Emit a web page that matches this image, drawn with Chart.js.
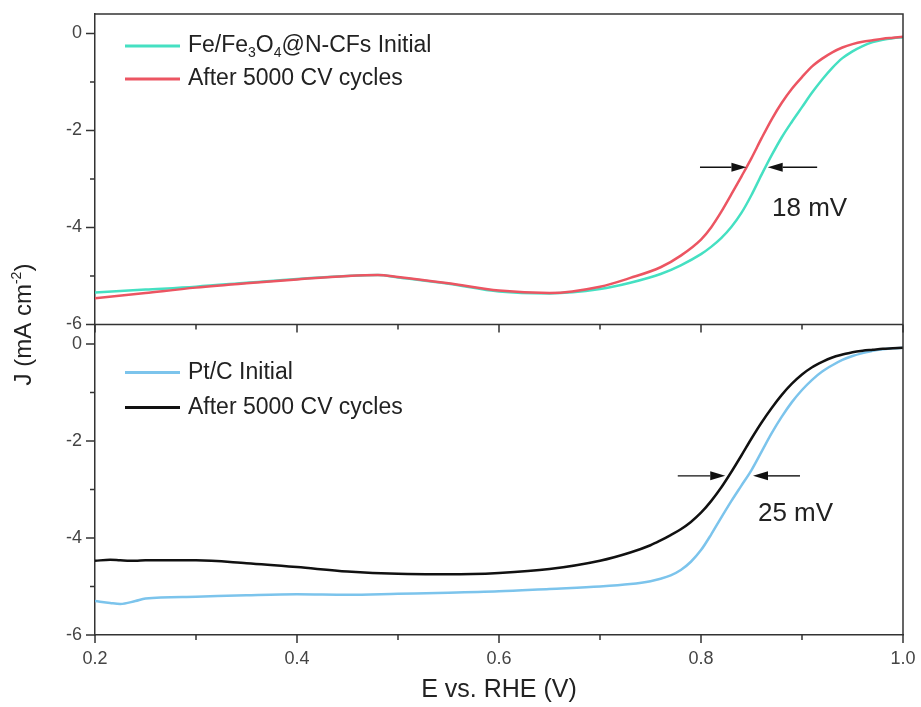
<!DOCTYPE html>
<html>
<head>
<meta charset="utf-8">
<title>LSV stability</title>
<script src="https://cdn.jsdelivr.net/npm/chart.js@4.4.1/dist/chart.umd.min.js"></script>
<style>
    html, body { margin: 0; padding: 0; background: #fff; }
    #wrap { width: 921px; height: 707px; }
</style>
</head>
<body>
<div id="wrap"><canvas id="lsvChart" width="921" height="707"></canvas></div>
<script>
// Top panel: Fe/Fe3O4@N-CFs, potential in V vs. RHE, current density in mA cm-2
const potentialTop = [0.2, 0.25, 0.3, 0.35, 0.4, 0.45, 0.48, 0.5, 0.55, 0.6, 0.65, 0.7, 0.73, 0.76, 0.78, 0.8,
    0.81, 0.82, 0.83, 0.84, 0.85, 0.86, 0.87, 0.88, 0.89, 0.9, 0.91, 0.92, 0.93, 0.94, 0.95, 0.96, 0.97, 0.98, 0.99, 1.0];
const feInitial = [-5.34, -5.28, -5.22, -5.14, -5.06, -5.0, -4.98, -5.03, -5.16, -5.32, -5.36, -5.27, -5.14, -4.96, -4.78, -4.55,
    -4.4, -4.22, -3.99, -3.7, -3.33, -2.91, -2.51, -2.14, -1.82, -1.52, -1.22, -0.95, -0.71, -0.51, -0.37, -0.26, -0.18, -0.13, -0.1, -0.08];
const feAfter = [-5.46, -5.35, -5.24, -5.15, -5.07, -5.0, -4.98, -5.02, -5.15, -5.3, -5.35, -5.22, -5.04, -4.82, -4.58, -4.25,
    -4.0, -3.68, -3.32, -2.95, -2.57, -2.16, -1.77, -1.43, -1.14, -0.9, -0.68, -0.52, -0.39, -0.29, -0.22, -0.17, -0.14, -0.11, -0.09, -0.07];

// Bottom panel: Pt/C
const potentialBottom = [0.2, 0.215, 0.225, 0.24, 0.25, 0.3, 0.35, 0.4, 0.45, 0.5, 0.55, 0.6, 0.65, 0.7, 0.73, 0.75, 0.76, 0.77, 0.78, 0.79,
    0.8, 0.81, 0.82, 0.83, 0.84, 0.85, 0.86, 0.87, 0.88, 0.89, 0.9, 0.91, 0.92, 0.93, 0.94, 0.95, 0.96, 0.97, 0.98, 0.99, 1.0];
const ptInitial = [-5.3, -5.34, -5.36, -5.3, -5.25, -5.21, -5.18, -5.16, -5.17, -5.15, -5.13, -5.1, -5.05, -5.0, -4.95, -4.89, -4.84, -4.77, -4.66, -4.49,
    -4.25, -3.93, -3.58, -3.24, -2.92, -2.6, -2.22, -1.84, -1.5, -1.2, -0.95, -0.74, -0.57, -0.44, -0.33, -0.25, -0.19, -0.14, -0.11, -0.09, -0.08];
const ptAfter = [-4.47, -4.45, -4.46, -4.47, -4.46, -4.46, -4.52, -4.6, -4.69, -4.74, -4.75, -4.72, -4.64, -4.47, -4.3, -4.15, -4.05, -3.94, -3.82, -3.67,
    -3.48, -3.24, -2.96, -2.64, -2.3, -1.95, -1.62, -1.32, -1.05, -0.82, -0.63, -0.48, -0.37, -0.28, -0.22, -0.17, -0.14, -0.12, -0.1, -0.09, -0.08];

// Axis ticks
const xMajor = [0.2, 0.4, 0.6, 0.8, 1.0];
const xMinor = [0.3, 0.5, 0.7, 0.9];
const yMajor = [-6, -4, -2, 0];
const yMinor = [-5, -3, -1];

const FONT = "'Liberation Sans', Arial, sans-serif";
const AXIS_COLOR = '#333';
const TEXT_COLOR = '#222';
const TEAL = '#45e0c2';
const RED = '#ec5562';
const SKY = '#7cc4ec';
const BLACK = '#111111';

const toPoints = (xs, ys) => xs.map((x, i) => ({ x: x, y: ys[i] }));

// text with sub/superscripts: parts = [[text, 'sub'|'sup'|null], ...]
function drawRich(ctx, x, y, parts, size, center) {
    const small = Math.round(size * 0.6);
    const fontFor = (kind) => (kind ? small : size) + 'px ' + FONT;
    let total = 0;
    parts.forEach(([t, kind]) => {
        ctx.font = fontFor(kind);
        total += ctx.measureText(t).width;
    });
    let cx = center ? x - total / 2 : x;
    ctx.textAlign = 'left';
    ctx.textBaseline = 'alphabetic';
    parts.forEach(([t, kind]) => {
        ctx.font = fontFor(kind);
        let dy = 0;
        if (kind === 'sub') dy = size * 0.22;
        if (kind === 'sup') dy = -size * 0.42;
        ctx.fillText(t, cx, y + dy);
        cx += ctx.measureText(t).width;
    });
}

function drawArrow(ctx, x0, x1, y) {
    const dir = Math.sign(x1 - x0);
    const head = 15;
    ctx.beginPath();
    ctx.moveTo(x0, y);
    ctx.lineTo(x1 - dir * head, y);
    ctx.stroke();
    ctx.beginPath();
    ctx.moveTo(x1, y);
    ctx.lineTo(x1 - dir * head, y - 4.5);
    ctx.lineTo(x1 - dir * head, y + 4.5);
    ctx.closePath();
    ctx.fill();
}

// box, panel divider and outward tick marks
const panelFrame = {
    id: 'panelFrame',
    afterDatasetsDraw(chart) {
        const { ctx, chartArea: a, scales } = chart;
        const mid = scales.yTop.bottom;
        ctx.save();
        ctx.strokeStyle = AXIS_COLOR;
        ctx.lineWidth = 1.5;
        ctx.beginPath();
        ctx.moveTo(a.left, a.top);
        ctx.lineTo(a.right, a.top);
        ctx.lineTo(a.right, a.bottom);
        ctx.moveTo(a.left, mid);
        ctx.lineTo(a.right, mid);
        ctx.stroke();

        ctx.beginPath();
        [mid, a.bottom].forEach(yb => {
            xMajor.forEach(v => {
                const px = scales.x.getPixelForValue(v);
                ctx.moveTo(px, yb); ctx.lineTo(px, yb + 8);
            });
            xMinor.forEach(v => {
                const px = scales.x.getPixelForValue(v);
                ctx.moveTo(px, yb); ctx.lineTo(px, yb + 5);
            });
        });
        ['yTop', 'yBot'].forEach(id => {
            const s = scales[id];
            yMajor.forEach(v => {
                const py = s.getPixelForValue(v);
                ctx.moveTo(a.left - 9, py); ctx.lineTo(a.left, py);
            });
            yMinor.forEach(v => {
                const py = s.getPixelForValue(v);
                ctx.moveTo(a.left - 5, py); ctx.lineTo(a.left, py);
            });
        });
        ctx.stroke();

        // shared y title
        ctx.fillStyle = TEXT_COLOR;
        ctx.translate(31, (a.top + a.bottom) / 2);
        ctx.rotate(-Math.PI / 2);
        drawRich(ctx, 0, 0, [['J (mA cm', null], ['-2', 'sup'], [')', null]], 24, true);
        ctx.restore();
    }
};

// legends inside each panel
const panelLegend = {
    id: 'panelLegend',
    afterDraw(chart, args, opts) {
        const { ctx, chartArea: a, scales } = chart;
        ctx.save();
        opts.rows.forEach(row => {
            const base = scales[row.axis].top + row.baseline;
            const ds = chart.data.datasets[row.dataset];
            ctx.strokeStyle = ds.borderColor;
            ctx.lineWidth = 3;
            ctx.beginPath();
            ctx.moveTo(a.left + 30, base - 6);
            ctx.lineTo(a.left + 85, base - 6);
            ctx.stroke();
            ctx.fillStyle = TEXT_COLOR;
            drawRich(ctx, a.left + 93, base, row.parts, 23, false);
        });
        ctx.restore();
    }
};

// half-wave potential shift arrows
const shiftMarks = {
    id: 'shiftMarks',
    afterDraw(chart, args, opts) {
        const { ctx, scales } = chart;
        const x = scales.x;
        ctx.save();
        ctx.strokeStyle = BLACK;
        ctx.fillStyle = BLACK;
        ctx.lineWidth = 1.4;
        opts.marks.forEach(m => {
            const s = scales[m.axis];
            const y = s.getPixelForValue(m.level);
            drawArrow(ctx, x.getPixelForValue(m.left[0]), x.getPixelForValue(m.left[1]), y);
            drawArrow(ctx, x.getPixelForValue(m.right[0]), x.getPixelForValue(m.right[1]), y);
            ctx.fillStyle = TEXT_COLOR;
            ctx.font = '26px ' + FONT;
            ctx.textAlign = 'left';
            ctx.textBaseline = 'alphabetic';
            ctx.fillText(m.text, x.getPixelForValue(m.textAt[0]), s.getPixelForValue(m.textAt[1]));
            ctx.fillStyle = BLACK;
        });
        ctx.restore();
    }
};

const yScale = (weight) => ({
    type: 'linear',
    position: 'left',
    stack: 'panels',
    stackWeight: weight,
    min: -6,
    max: 0.4,
    afterBuildTicks: s => { s.ticks = yMajor.map(v => ({ value: v })); },
    afterFit: s => {
        s.width = 95;
        s.paddingTop = 0;
        s.paddingBottom = 0;
    },
    grid: { display: false, drawTicks: false },
    border: { display: true, color: AXIS_COLOR, width: 1.5 },
    ticks: {
        padding: 13,
        color: '#444',
        font: { family: FONT, size: 18 },
        callback: v => String(v)
    }
});

new Chart(document.getElementById('lsvChart'), {
    type: 'line',
    data: {
        datasets: [
            { label: 'After 5000 CV cycles', data: toPoints(potentialTop, feAfter), yAxisID: 'yTop', borderColor: RED, order: 0 },
            { label: 'Fe/Fe3O4@N-CFs Initial', data: toPoints(potentialTop, feInitial), yAxisID: 'yTop', borderColor: TEAL, order: 1 },
            { label: 'After 5000 CV cycles', data: toPoints(potentialBottom, ptAfter), yAxisID: 'yBot', borderColor: BLACK, order: 0 },
            { label: 'Pt/C Initial', data: toPoints(potentialBottom, ptInitial), yAxisID: 'yBot', borderColor: SKY, order: 1 }
        ]
    },
    options: {
        responsive: false,
        animation: false,
        devicePixelRatio: 1,
        layout: { padding: { top: 14, right: 18, left: 0, bottom: 0 } },
        elements: {
            point: { radius: 0 },
            line: { borderWidth: 2.5, cubicInterpolationMode: 'monotone', fill: false }
        },
        plugins: {
            legend: { display: false },
            tooltip: { enabled: false },
            panelLegend: {
                rows: [
                    { axis: 'yTop', dataset: 1, baseline: 38, parts: [['Fe/Fe', null], ['3', 'sub'], ['O', null], ['4', 'sub'], ['@N-CFs Initial', null]] },
                    { axis: 'yTop', dataset: 0, baseline: 71, parts: [['After 5000 CV cycles', null]] },
                    { axis: 'yBot', dataset: 3, baseline: 54, parts: [['Pt/C Initial', null]] },
                    { axis: 'yBot', dataset: 2, baseline: 89, parts: [['After 5000 CV cycles', null]] }
                ]
            },
            shiftMarks: {
                marks: [
                    { axis: 'yTop', level: -2.76, left: [0.799, 0.845], right: [0.915, 0.866], text: '18 mV', textAt: [0.8703, -3.77] },
                    { axis: 'yBot', level: -2.72, left: [0.777, 0.824], right: [0.898, 0.8515], text: '25 mV', textAt: [0.8564, -3.65] }
                ]
            }
        },
        scales: {
            x: {
                type: 'linear',
                position: 'bottom',
                min: 0.2,
                max: 1.0,
                afterBuildTicks: s => { s.ticks = xMajor.map(v => ({ value: v })); },
                afterFit: s => {
                    s.height = 72;
                    s.paddingLeft = 0;
                    s.paddingRight = 0;
                },
                grid: { display: false, drawTicks: false },
                border: { display: true, color: AXIS_COLOR, width: 1.5 },
                ticks: {
                    padding: 13,
                    color: '#444',
                    maxRotation: 0,
                    font: { family: FONT, size: 18 },
                    callback: v => v.toFixed(1)
                },
                title: {
                    display: true,
                    text: 'E vs. RHE (V)',
                    color: TEXT_COLOR,
                    font: { family: FONT, size: 25 },
                    padding: { top: 0, bottom: 2 }
                }
            },
            // stacked scales are laid out top-down in reverse of this order
            yBot: yScale(1),
            yTop: yScale(1)
        }
    },
    plugins: [panelFrame, panelLegend, shiftMarks]
});
</script>
</body>
</html>
